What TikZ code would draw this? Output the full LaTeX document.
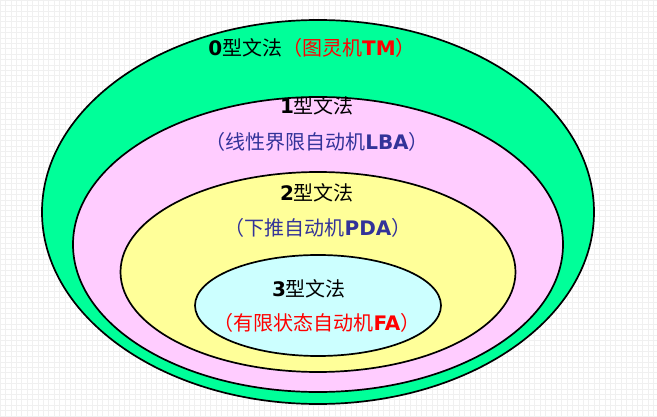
\documentclass[tikz,border=0pt]{standalone}
\usepackage{fontspec}
\setmainfont{Noto Sans CJK SC}
\newfontfamily\latb{DejaVu Sans Bold}
\definecolor{cgreen}{HTML}{00FF99}
\definecolor{cpink}{HTML}{FFCCFF}
\definecolor{cyellow}{HTML}{FFFF99}
\definecolor{ccyan}{HTML}{CCFFFF}
\definecolor{cblue}{HTML}{333399}
\definecolor{cred}{HTML}{FF0000}
\newcommand{\lb}[1]{{\latb #1}}
\tikzset{
  region/.style={draw=black, line width=1.7pt},
  lbl/.style={inner sep=0pt, font=\fontsize{20}{24}\selectfont}
}
\begin{document}
\begin{tikzpicture}[x=1pt,y=-1pt]
\useasboundingbox (0,0) rectangle (657,417);
\fill[white] (0,0) rectangle (657,417);
\draw[black!6, line width=0.5pt, step=5.4pt] (0,0) grid (657,417);
\draw[region, fill=cgreen]  (318,212)   ellipse [x radius=276pt,   y radius=192pt];
\draw[region, fill=cpink]   (318,244.5) ellipse [x radius=245pt,   y radius=147.5pt];
\draw[region, fill=cyellow] (318,272)   ellipse [x radius=197.5pt, y radius=100pt];
\draw[region, fill=ccyan]   (318,305.5) ellipse [x radius=123pt,   y radius=50.5pt];
\node[lbl] (t0) at (312,48) {\lb{0}型文法\textcolor{cred}{（图灵机\lb{TM}）}};
\node[lbl] (t1) at (317,106) {\lb{1}型文法};
\node[lbl, text=cblue] (m1) at (317,142) {（线性界限自动机\lb{LBA}）};
\node[lbl] (t2) at (317,193) {\lb{2}型文法};
\node[lbl, text=cblue] (m2) at (318,228) {（下推自动机\lb{PDA}）};
\node[lbl] (t3) at (309,289) {\lb{3}型文法};
\node[lbl, text=cred] (m3) at (317,323) {（有限状态自动机\lb{FA}）};
\end{tikzpicture}
\end{document}
